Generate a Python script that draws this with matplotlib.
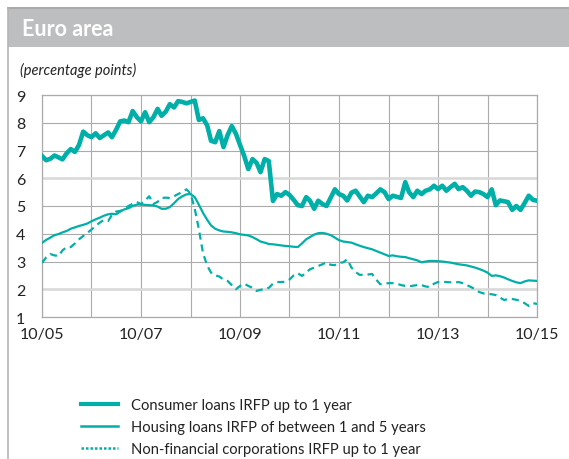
import numpy as np
import pandas as pd
import matplotlib
matplotlib.use("Agg")
import matplotlib.pyplot as plt
from matplotlib.lines import Line2D
from matplotlib.patches import Rectangle

plt.rcParams['font.family'] = ['Lato', 'DejaVu Sans']

# monthly observations, Oct 2005 - Oct 2015
months = pd.date_range('2005-10-01', periods=121, freq='MS')

consumer = [
    6.80, 6.65, 6.70, 6.82, 6.75, 6.68, 6.90, 7.05, 6.95, 7.20,
    7.68, 7.55, 7.48, 7.62, 7.45, 7.55, 7.65, 7.48, 7.75, 8.05,
    8.08, 8.02, 8.42, 8.20, 8.05, 8.38, 8.02, 8.20, 8.50, 8.25,
    8.40, 8.67, 8.55, 8.78, 8.75, 8.70, 8.75, 8.80, 8.10, 8.16,
    7.90, 7.35, 7.30, 7.70, 7.12, 7.55, 7.88, 7.60, 7.20, 6.80,
    6.33, 6.69, 6.55, 6.22, 6.69, 6.62, 5.18, 5.43, 5.37, 5.50,
    5.40, 5.22, 5.03, 5.00, 5.32, 5.19, 4.90, 5.19, 5.07, 5.00,
    5.30, 5.60, 5.43, 5.37, 5.20, 5.48, 5.55, 5.35, 5.14, 5.37,
    5.32, 5.45, 5.60, 5.50, 5.25, 5.37, 5.33, 5.29, 5.86, 5.50,
    5.32, 5.55, 5.43, 5.55, 5.60, 5.73, 5.61, 5.73, 5.55, 5.68,
    5.80, 5.61, 5.68, 5.55, 5.37, 5.52, 5.50, 5.43, 5.32, 5.60,
    5.03, 5.20, 5.17, 5.14, 4.86, 5.00, 4.86, 5.10, 5.37, 5.22,
    5.19,
]

housing = [
    3.67, 3.78, 3.86, 3.95, 3.99, 4.05, 4.10, 4.18, 4.23, 4.28,
    4.32, 4.37, 4.45, 4.52, 4.58, 4.65, 4.70, 4.72, 4.70, 4.80,
    4.88, 4.92, 5.00, 5.05, 5.05, 5.04, 5.03, 5.02, 4.98, 4.90,
    4.90, 4.96, 5.10, 5.25, 5.35, 5.42, 5.43, 5.32, 5.05, 4.75,
    4.50, 4.30, 4.18, 4.12, 4.08, 4.07, 4.05, 4.02, 3.98, 3.96,
    3.94, 3.88, 3.80, 3.72, 3.68, 3.63, 3.62, 3.60, 3.58, 3.56,
    3.55, 3.53, 3.52, 3.65, 3.80, 3.88, 3.97, 4.02, 4.03, 4.00,
    3.95, 3.86, 3.77, 3.72, 3.70, 3.68, 3.62, 3.57, 3.52, 3.48,
    3.44, 3.38, 3.32, 3.26, 3.20, 3.22, 3.19, 3.17, 3.16, 3.12,
    3.08, 3.04, 2.97, 3.00, 3.02, 3.02, 3.01, 3.00, 2.98, 2.96,
    2.93, 2.90, 2.88, 2.86, 2.82, 2.78, 2.73, 2.67, 2.60, 2.48,
    2.50, 2.47, 2.42, 2.36, 2.30, 2.25, 2.22, 2.28, 2.32, 2.31,
    2.30,
]

nfc = [
    2.95, 3.15, 3.27, 3.22, 3.20, 3.40, 3.52, 3.52, 3.65, 3.80,
    3.92, 4.03, 4.15, 4.28, 4.40, 4.50, 4.46, 4.68, 4.80, 4.82,
    4.90, 5.00, 5.08, 5.14, 5.07, 5.20, 5.35, 5.07, 5.15, 5.29,
    5.30, 5.29, 5.35, 5.43, 5.50, 5.60, 5.45, 4.90, 4.17, 3.30,
    2.85, 2.60, 2.50, 2.46, 2.35, 2.30, 2.15, 2.00, 2.12, 2.20,
    2.12, 2.05, 1.94, 1.98, 2.00, 2.05, 2.20, 2.26, 2.26, 2.27,
    2.35, 2.50, 2.58, 2.48, 2.60, 2.72, 2.78, 2.84, 2.90, 2.97,
    2.88, 2.87, 2.95, 2.97, 3.08, 2.78, 2.62, 2.52, 2.52, 2.53,
    2.55, 2.35, 2.18, 2.20, 2.22, 2.22, 2.20, 2.15, 2.12, 2.10,
    2.13, 2.15, 2.15, 2.10, 2.08, 2.20, 2.26, 2.27, 2.26, 2.25,
    2.24, 2.26, 2.22, 2.15, 2.08, 2.00, 1.90, 1.85, 1.83, 1.82,
    1.79, 1.70, 1.61, 1.65, 1.65, 1.62, 1.58, 1.50, 1.40, 1.50,
    1.47,
]

series_names = [
    'Consumer loans IRFP up to 1 year',
    'Housing loans IRFP of between 1 and 5 years',
    'Non-financial corporations IRFP up to 1 year',
]
tick_labels = ['10/05', '', '10/07', '', '10/09', '', '10/11', '', '10/13', '', '10/15']

teal = '#00b0a8'
grid_c = '#ababab'
text_c = '#222222'

fig = plt.figure(figsize=(5.69, 4.60), dpi=100)

# header band and frame
fig.patches.append(Rectangle((8 / 569, 1 - 48 / 460), 1, 38 / 460, transform=fig.transFigure,
                             facecolor='#bdbec0', edgecolor='none', zorder=0))
fig.lines.append(Line2D([8 / 569, 1], [1 - 9 / 460, 1 - 9 / 460], transform=fig.transFigure,
                        color='#9a9a9a', lw=1.2))
fig.lines.append(Line2D([8 / 569, 8 / 569], [0, 1 - 9 / 460], transform=fig.transFigure,
                        color='#b5b5b5', lw=1.2))
fig.text(22 / 569, 1 - 29 / 460, 'Euro area', color='white', fontsize=15.5, fontweight='bold',
         va='center', ha='left')
fig.text(20 / 569, 1 - 70 / 460, '(percentage points)', color=text_c, fontsize=10.5,
         style='italic', va='center', ha='left')

ax = fig.add_axes([42 / 569, 1 - 318 / 460, 495 / 569, 222 / 460])
ax.set_axisbelow(True)

ax.plot(months, consumer, color=teal, lw=3.3, solid_joinstyle='round', zorder=3)
ax.plot(months, housing, color=teal, lw=1.6, zorder=3)
ax.plot(months, nfc, color=teal, lw=1.6, ls=(0, (3.2, 2.2)), zorder=3)

ax.set_xlim(months[0], months[-1])
ax.set_ylim(1, 9)
ax.set_yticks(range(1, 10))
ax.set_xticks(months[::12])
ax.set_xticklabels(tick_labels)
ax.tick_params(length=0, labelsize=11.5, colors=text_c, pad=7)
ax.tick_params(axis='y', pad=12)

ax.grid(True, color=grid_c, lw=0.8)
# lighter, wider rules at 2 and 6
for v in [2, 6]:
    ax.axhline(v, color='#d8d8d8', lw=1.8, zorder=1.5)
for s in ax.spines.values():
    s.set_color(grid_c)
    s.set_linewidth(0.9)

handles = [
    Line2D([], [], color=teal, lw=3.0),
    Line2D([], [], color=teal, lw=1.8),
    Line2D([], [], color=teal, lw=1.8, ls=(0, (1, 0.8))),
]
fig.legend(handles, series_names, loc='upper left', bbox_to_anchor=(81 / 569, 1 - 399 / 460),
           frameon=False, fontsize=10.6, handlelength=2.5, handletextpad=0.9,
           labelspacing=0.55, labelcolor=text_c, borderaxespad=0, borderpad=0)

fig.savefig('out.png', dpi=100, facecolor='white')
